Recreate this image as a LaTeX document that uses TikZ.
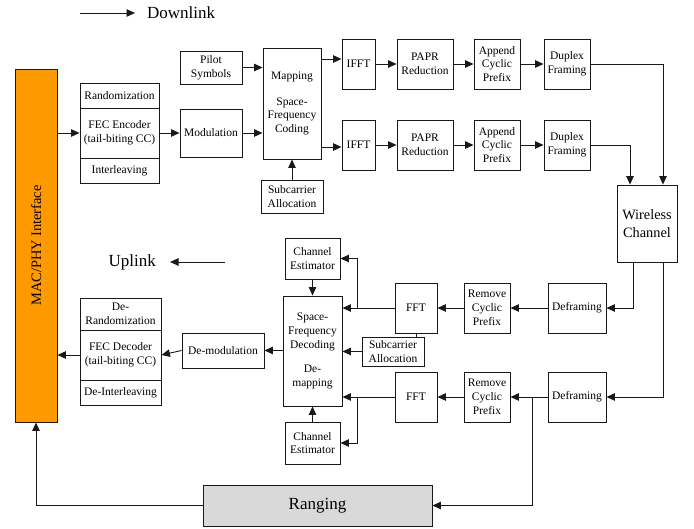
\documentclass[tikz,border=0pt]{standalone}
\usepackage{fontspec}
\setmainfont{Liberation Serif}
\usetikzlibrary{arrows.meta}
\definecolor{macorange}{RGB}{255,153,0}
\definecolor{ranggray}{RGB}{217,217,217}
\begin{document}
\begin{tikzpicture}[x=1pt,y=-1pt,
  blk/.style={draw=black!90,line width=0.9pt,rectangle,inner sep=0pt,align=center,
    font=\fontsize{11.5}{13.8}\selectfont},
  conn/.style={draw=black!90,line width=0.9pt,-{Triangle[length=8.5pt,width=7.5pt]}},
  plain/.style={draw=black!90,line width=0.9pt},
  legend/.style={font=\fontsize{17}{20}\selectfont,inner sep=0pt}
]
\useasboundingbox (0,0) rectangle (694,529);

% legend
\coordinate (dl1) at (80,13);
\coordinate (dl2) at (135,13);
\node[legend,anchor=west] (dltxt) at (147,13) {Downlink};
\draw[conn] (dl1) -- (dl2);
\coordinate (ul1) at (225,262);
\coordinate (ul2) at (170,262);
\node[legend,anchor=east] (ultxt) at (156,262) {Uplink};
\draw[conn] (ul1) -- (ul2);

% MAC/PHY
\node[blk,fill=macorange,minimum width=42pt,minimum height=353pt] (mac) at (36,245.5) {};
\node[rotate=90,font=\fontsize{14.4}{17}\selectfont,inner sep=0pt] (mactxt) at (36,245.5) {MAC/PHY Interface};

% Downlink chain
\node[blk,minimum width=79pt,minimum height=25pt] (rand) at (119.5,95.5) {Randomization};
\node[blk,minimum width=79pt,minimum height=50pt] (fec) at (119.5,133) {FEC Encoder\\(tail-biting CC)};
\node[blk,minimum width=79pt,minimum height=25pt] (inter) at (119.5,170.5) {Interleaving};
\node[blk,minimum width=62pt,minimum height=33pt] (pilot) at (211,67.5) {Pilot\\Symbols};
\node[blk,minimum width=62pt,minimum height=48pt] (modul) at (211,133) {Modulation};
\node[blk,minimum width=58pt,minimum height=111pt] (map) at (292,103.5) {Mapping\\[12pt]Space-\\Frequency\\Coding};
\node[blk,minimum width=62pt,minimum height=33pt] (sub1) at (292,196.5) {Subcarrier\\Allocation};

\node[blk,minimum width=33pt,minimum height=50pt] (ifft1) at (358.5,64) {IFFT};
\node[blk,minimum width=56pt,minimum height=50pt] (papr1) at (425,64) {PAPR\\Reduction};
\node[blk,minimum width=46pt,minimum height=50pt] (app1) at (497,64) {Append\\Cyclic\\Prefix};
\node[blk,minimum width=46pt,minimum height=50pt] (dup1) at (567,64) {Duplex\\Framing};

\node[blk,minimum width=33pt,minimum height=50pt] (ifft2) at (358.5,145) {IFFT};
\node[blk,minimum width=56pt,minimum height=50pt] (papr2) at (425,145) {PAPR\\Reduction};
\node[blk,minimum width=46pt,minimum height=50pt] (app2) at (497,145) {Append\\Cyclic\\Prefix};
\node[blk,minimum width=46pt,minimum height=50pt] (dup2) at (567,145) {Duplex\\Framing};

\node[blk,minimum width=60pt,minimum height=77pt,font=\fontsize{14.3}{17.5}\selectfont] (wl) at (647,223.5) {Wireless\\Channel};

% Uplink chain
\node[blk,minimum width=58pt,minimum height=50pt] (defr1) at (577,308) {Deframing};
\node[blk,minimum width=46pt,minimum height=50pt] (rcp1) at (487,308) {Remove\\Cyclic\\Prefix};
\node[blk,minimum width=42pt,minimum height=50pt] (fft1) at (416,308) {FFT};
\node[blk,minimum width=58pt,minimum height=50pt] (defr2) at (577,397) {Deframing};
\node[blk,minimum width=46pt,minimum height=50pt] (rcp2) at (487,397) {Remove\\Cyclic\\Prefix};
\node[blk,minimum width=42pt,minimum height=50pt] (fft2) at (416,397) {FFT};

\node[blk,minimum width=55pt,minimum height=41pt] (ce1) at (312.5,258.5) {Channel\\Estimator};
\node[blk,minimum width=59pt,minimum height=110pt] (sfd) at (312.5,351) {Space-\\Frequency\\Decoding\\[11pt]De-\\mapping};
\node[blk,minimum width=55pt,minimum height=42pt] (ce2) at (312.5,443) {Channel\\Estimator};
\node[blk,minimum width=62pt,minimum height=29pt] (sub2) at (393,351.5) {Subcarrier\\Allocation};
\node[blk,minimum width=82pt,minimum height=35pt] (demod) at (223,350.5) {De-modulation};

\node[blk,minimum width=81pt,minimum height=32pt] (derand) at (120.5,314) {De-\\Randomization};
\node[blk,minimum width=81pt,minimum height=50pt] (fecdec) at (120.5,355) {FEC Decoder\\(tail-biting CC)};
\node[blk,minimum width=81pt,minimum height=25pt] (deint) at (120.5,392.5) {De-Interleaving};

\node[blk,fill=ranggray,minimum width=229pt,minimum height=41pt,font=\fontsize{17}{20}\selectfont] (rang) at (317.5,505.5) {Ranging};

% helper coordinates
\coordinate (y59) at (0,59);
\coordinate (y147) at (0,147);
\coordinate (x663) at (663,0);
\coordinate (x630) at (630,0);
\coordinate (x633) at (633,0);
\coordinate (x357) at (357,0);
\coordinate (x532) at (532,0);

% downlink connectors
\draw[conn] (mac.east |- fec.west) -- (fec.west);
\draw[conn] (fec.east) -- (modul.west);
\draw[conn] (pilot.east) -- (map.west |- pilot.east);
\draw[conn] (modul.east) -- (map.west |- modul.east);
\draw[conn] (sub1.north) -- (map.south);
\draw[conn] (map.east |- y59) -- (ifft1.west |- y59);
\draw[conn] (map.east |- y147) -- (ifft2.west |- y147);
\draw[conn] (ifft1) -- (papr1);
\draw[conn] (papr1) -- (app1);
\draw[conn] (app1) -- (dup1);
\draw[conn] (ifft2) -- (papr2);
\draw[conn] (papr2) -- (app2);
\draw[conn] (app2) -- (dup2);
\draw[conn] (dup1.east) -| (wl.north -| x663);
\draw[conn] (dup2.east) -| (wl.north -| x630);

% uplink connectors
\draw[conn] (wl.south -| x633) |- (defr1.east);
\draw[conn] (wl.south -| x663) |- (defr2.east);
\draw[conn] (defr1) -- (rcp1);
\draw[conn] (rcp1) -- (fft1);
\draw[conn] (fft1.west) -- (sfd.east |- fft1.west);
\draw[conn] (fft1.west -| x357) |- (ce1.east);
\draw[plain] (fft1.south) -- (fft1.south |- sub2.north);
\draw[conn] (defr2) -- (rcp2);
\draw[conn] (rcp2) -- (fft2);
\draw[conn] (fft2.west) -- (sfd.east |- fft2.west);
\draw[conn] (fft2.west -| x357) |- (ce2.east);
\draw[conn] (sub2.west) -- (sfd.east |- sub2.west);
\draw[conn] (ce1.south) -- (sfd.north);
\draw[conn] (ce2.north) -- (sfd.south);
\draw[conn] (sfd.west |- demod.east) -- (demod.east);
\draw[conn] (demod.west) -- (fecdec.east);
\draw[conn] (fecdec.west) -- (mac.east |- fecdec.west);
\draw[conn] (defr2.west -| x532) |- (rang.east);
\draw[conn] (rang.west) -| (mac.south);
\end{tikzpicture}
\end{document}
